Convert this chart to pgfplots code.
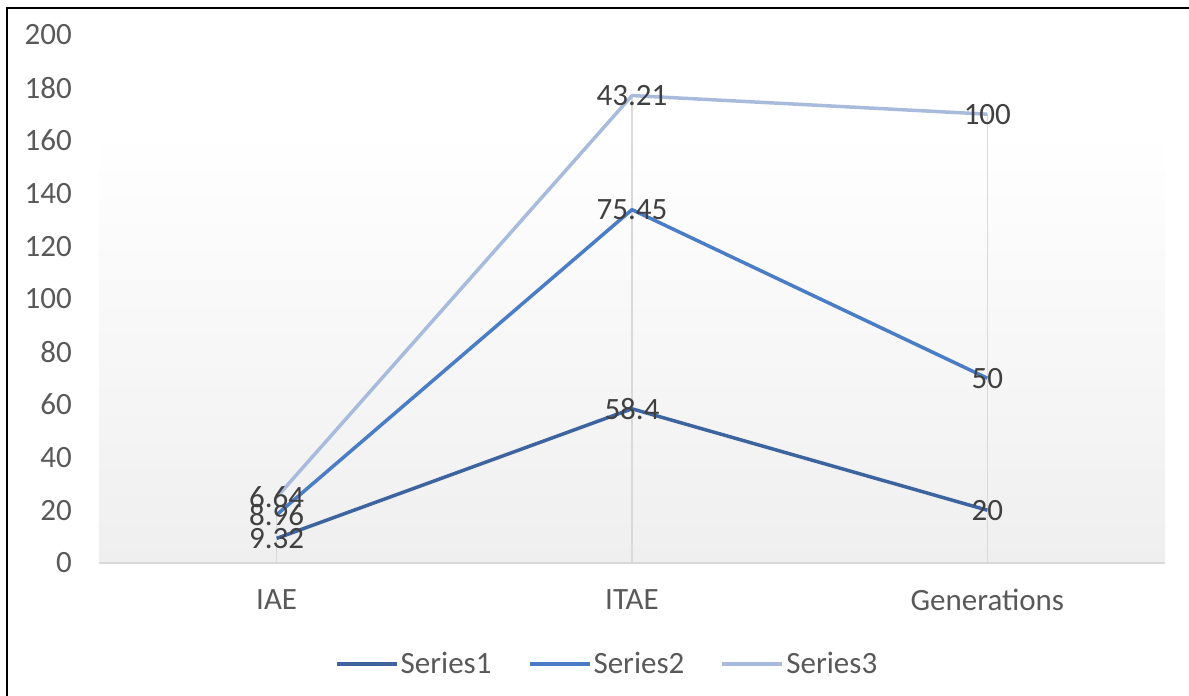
\documentclass[border=0pt]{standalone}
\usepackage{pgfplots}
\pgfplotsset{compat=1.18}
\usepackage{fontspec}
\setmainfont{Carlito}
\definecolor{sA}{HTML}{3E64A0}
\definecolor{sB}{HTML}{4A7DC5}
\definecolor{sC}{HTML}{A9BBDD}
\definecolor{tickc}{HTML}{595959}
\definecolor{labc}{HTML}{404040}
\definecolor{gridc}{HTML}{D9D9D9}
\definecolor{bgbot}{HTML}{EFEFEF}
\pgfdeclareverticalshading{bgshade}{100bp}{color(0bp)=(bgbot); color(25bp)=(bgbot); color(66bp)=(white); color(100bp)=(white)}
\newcommand{\cf}{\fontsize{31}{36}\selectfont}
\begin{document}
\begin{tikzpicture}[x=1pt,y=1pt]
\path[use as bounding box] (0,0) rectangle (1189,696);
\draw[black, line width=2.5pt] (7,-5) -- (7,688) -- (1195,688);
\begin{axis}[
  at={(99pt,133pt)}, anchor=south west,
  scale only axis, width=1066pt, height=528pt,
  xmin=-0.5, xmax=2.5, ymin=0, ymax=200,
  xtick={0,1,2}, xticklabels={IAE,ITAE,Generations},
  ytick={0,20,...,200},
  /pgf/number format/assume math mode=true,
  axis x line*=bottom, axis y line*=left,
  x axis line style={draw=gridc, line width=1.5pt},
  y axis line style={draw=none},
  major tick length=0pt,
  axis background/.style={shading=bgshade},
  tick label style={font=\cf, text=tickc, inner sep=0pt},
  xticklabel style={yshift=-26pt},
  yticklabel style={xshift=-27pt},
  legend columns=3,
  legend style={at={(0.4765,-0.191)}, anchor=center, draw=none, fill=none, font=\cf, text=tickc,
    /tikz/every even column/.append style={column sep=34pt}},
  legend image code/.code={\draw[#1, line width=4pt] (0pt,0pt) -- (60pt,0pt);},
  line join=round,
  lbl/.style={point meta=explicit symbolic, nodes near coords,
    every node near coord/.append style={anchor=center, font=\cf, text=labc, inner sep=0pt}},
]
% drop lines from the top (cumulative) values
\addplot[gridc, line width=1.2pt, ycomb, mark=none, forget plot] coordinates {(0,24.92) (1,177.06) (2,170)};
% stacked (cumulative) values; labels are the series' own values
\addplot[sA, line width=3.5pt, mark=none, lbl] coordinates {(0,9.32) [9.32] (1,58.4) [58.4] (2,20) [20]};
\addlegendentry{Series1}
\addplot[sB, line width=3.5pt, mark=none, lbl] coordinates {(0,18.28) [8.96] (1,133.85) [75.45] (2,70) [50]};
\addlegendentry{Series2}
\addplot[sC, line width=3.5pt, mark=none, lbl] coordinates {(0,24.92) [6.64] (1,177.06) [43.21] (2,170) [100]};
\addlegendentry{Series3}
\end{axis}
\end{tikzpicture}
\end{document}
